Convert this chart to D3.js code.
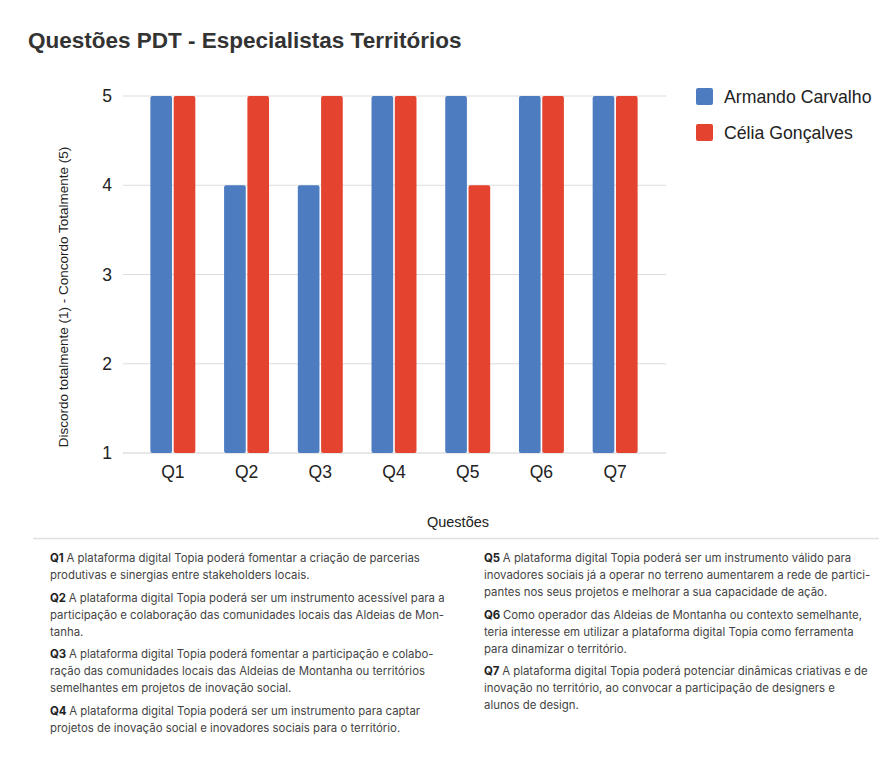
<!DOCTYPE html>
<html>
<head>
<meta charset="utf-8">
<script src="https://cdn.jsdelivr.net/npm/d3@7"></script>
<style>
  html, body { margin: 0; padding: 0; background: #fff; }
  svg { display: block; }
</style>
</head>
<body>
<svg id="chart" width="879" height="767"></svg>
<script>
// ---- Data ----
const categories = ["Q1", "Q2", "Q3", "Q4", "Q5", "Q6", "Q7"];
const seriesNames = ["Armando Carvalho", "Célia Gonçalves"];
const armandoValues = [5, 4, 4, 5, 5, 5, 5];
const celiaValues = [5, 5, 5, 5, 4, 5, 5];
const yTicks = [1, 2, 3, 4, 5];
const titleText = "Questões PDT - Especialistas Territórios";
const xTitle = "Questões";
const yTitle = "Discordo totalmente (1) - Concordo Totalmente (5)";
const notesLeft = [
  ["Q1", ["A plataforma digital Topia poderá fomentar a criação de parcerias", "produtivas e sinergias entre stakeholders locais."]],
  ["Q2", ["A plataforma digital Topia poderá ser um instrumento acessível para a", "participação e colaboração das comunidades locais das Aldeias de Mon-", "tanha."]],
  ["Q3", ["A plataforma digital Topia poderá fomentar a participação e colabo-", "ração das comunidades locais das Aldeias de Montanha ou territórios", "semelhantes em projetos de inovação social."]],
  ["Q4", ["A plataforma digital Topia poderá ser um instrumento para captar", "projetos de inovação social e inovadores sociais para o território."]]
];
const notesRight = [
  ["Q5", ["A plataforma digital Topia poderá ser um instrumento válido para", "inovadores sociais já a operar no terreno aumentarem a rede de partici-", "pantes nos seus projetos e melhorar a sua capacidade de ação."]],
  ["Q6", ["Como operador das Aldeias de Montanha ou contexto semelhante,", "teria interesse em utilizar a plataforma digital Topia como ferramenta", "para dinamizar o território."]],
  ["Q7", ["A plataforma digital Topia poderá potenciar dinâmicas criativas e de", "inovação no território, ao convocar a participação de designers e", "alunos de design."]]
];

const colors = ["#4d7cc1", "#e3432f"];
const seriesValues = [armandoValues, celiaValues];

const svg = d3.select("#chart");
const axisFont = "'Liberation Sans', Arial, sans-serif";

// Title
svg.append("text")
  .attr("x", 28).attr("y", 48)
  .attr("font-family", axisFont)
  .attr("font-weight", "bold")
  .attr("font-size", 22.5)
  .attr("fill", "#333")
  .text(titleText);

// Scales
const plotLeft = 123, plotRight = 666;
const x0 = d3.scaleBand().domain(categories).range([136, 652]).paddingInner(0.39).paddingOuter(0.195);
const x1 = d3.scaleBand().domain(seriesNames).range([0, x0.bandwidth()]).paddingInner(0.07);
const y = d3.scaleLinear().domain([1, 5]).range([453, 96]);

// Gridlines
svg.append("g").selectAll("line").data(yTicks).join("line")
  .attr("x1", plotLeft).attr("x2", plotRight)
  .attr("y1", d => y(d)).attr("y2", d => y(d))
  .attr("stroke", d => d === 1 ? "#cfcfcf" : "#dcdcdc")
  .attr("stroke-width", 1.2);

// Y axis ticks
const yAxis = d3.axisLeft(y).tickValues(yTicks).tickSize(0).tickPadding(0).tickFormat(d3.format("d"));
const gy = svg.append("g").attr("transform", "translate(112,0)").call(yAxis);
gy.select(".domain").remove();
gy.selectAll("text").attr("font-family", axisFont).attr("font-size", 17.5).attr("fill", "#222");

// X axis ticks
const xAxis = d3.axisBottom(x0).tickSize(0).tickPadding(0);
const gx = svg.append("g").attr("transform", "translate(0,466)").call(xAxis);
gx.select(".domain").remove();
gx.selectAll("text").attr("font-family", axisFont).attr("font-size", 17.5).attr("fill", "#222");

// Bars
const groups = svg.append("g").selectAll("g").data(categories).join("g")
  .attr("transform", d => `translate(${x0(d)},0)`);
groups.selectAll("rect")
  .data((c, i) => seriesNames.map((s, j) => ({ s, v: seriesValues[j][i], j })))
  .join("rect")
  .attr("x", d => x1(d.s))
  .attr("width", x1.bandwidth())
  .attr("y", d => y(d.v))
  .attr("height", d => y(1) - y(d.v))
  .attr("rx", 2)
  .attr("fill", d => colors[d.j]);

// Axis titles
svg.append("text")
  .attr("x", 458).attr("y", 527)
  .attr("text-anchor", "middle")
  .attr("font-family", axisFont)
  .attr("font-size", 14.5)
  .attr("fill", "#222")
  .text(xTitle);

svg.append("text")
  .attr("transform", "translate(68,297) rotate(-90)")
  .attr("text-anchor", "middle")
  .attr("font-family", axisFont)
  .attr("font-size", 13.5)
  .attr("fill", "#222")
  .text(yTitle);

// Legend
const legend = svg.append("g").selectAll("g").data(seriesNames).join("g")
  .attr("transform", (d, i) => `translate(696,${88 + i * 36})`);
legend.append("rect")
  .attr("width", 17).attr("height", 17).attr("rx", 2)
  .attr("fill", (d, i) => colors[i]);
legend.append("text")
  .attr("x", 28).attr("y", 15)
  .attr("font-family", axisFont)
  .attr("font-size", 17.7)
  .attr("fill", "#222")
  .text(d => d);

// Separator
svg.append("line")
  .attr("x1", 33).attr("x2", 879)
  .attr("y1", 538.5).attr("y2", 538.5)
  .attr("stroke", "#e0e0e0").attr("stroke-width", 1.5);

// Notes
const noteFont = "Inter, 'Noto Sans', sans-serif";
function drawNotes(notes, x0n, yStart) {
  let yy = yStart;
  notes.forEach(([label, lines]) => {
    lines.forEach((line, li) => {
      const t = svg.append("text")
        .attr("x", x0n).attr("y", yy)
        .attr("font-family", noteFont)
        .attr("font-size", 11.4)
        .attr("fill", "#444");
      if (li === 0) {
        t.append("tspan").attr("font-weight", "bold").attr("fill", "#222").text(label + " ");
      }
      t.append("tspan").text(line);
      yy += 17;
    });
    yy += 5.5;
  });
}
drawNotes(notesLeft, 50, 562);
drawNotes(notesRight, 484, 562);
</script>
</body>
</html>
